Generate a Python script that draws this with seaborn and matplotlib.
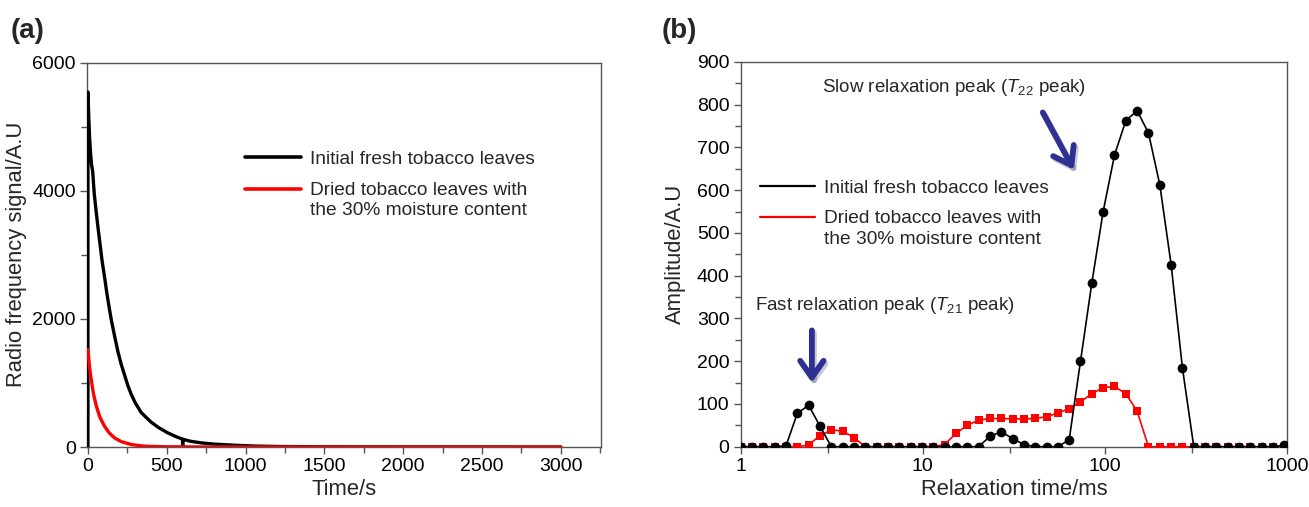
import matplotlib
matplotlib.use("Agg")
import matplotlib.pyplot as plt
import matplotlib.patheffects as pe
from matplotlib.lines import Line2D
from matplotlib.legend_handler import HandlerLine2D
from matplotlib.ticker import MultipleLocator, FixedLocator, NullFormatter
import numpy as np
import pandas as pd
import seaborn as sns

# ---- (a) CPMG decay curves: time (s) vs signal (A.U) ----
fresh_t = [0, 0, 5, 10, 16, 22, 30, 40, 50, 63, 75, 90, 105, 120, 135, 150, 170,
           190, 210, 230, 253, 275, 300, 337, 370, 400, 450, 506, 560, 600, 601,
           602, 650, 717, 800, 928, 1050, 1200, 1500, 2000, 3000]
fresh_sig = [0, 5540, 5150, 4850, 4600, 4420, 4300, 3950, 3720, 3440, 3200, 2900,
             2660, 2400, 2170, 1960, 1720, 1490, 1300, 1140, 960, 820, 690, 540,
             460, 390, 300, 221, 160, 122, 0, 120, 90, 65, 45, 28, 15, 8, 3, 1, 0]
dried_t = [0, 10, 21, 35, 53, 75, 105, 135, 168, 210, 274, 330, 380, 500, 700,
           1000, 3000]
dried_sig = [1519, 1250, 1050, 830, 640, 470, 324, 220, 143, 85, 39, 20, 10, 4, 1,
             0, 0]

# ---- (b) T2 inversion spectra: relaxation time (ms) vs amplitude (A.U) ----
relax_ms = [1.00, 1.154, 1.332, 1.537, 1.773, 2.046, 2.362, 2.725, 3.145, 3.629,
            4.188, 4.833, 5.577, 6.436, 7.427, 8.570, 9.890, 11.41, 13.17, 15.20,
            17.54, 20.24, 23.36, 26.95, 31.10, 35.89, 41.42, 47.79, 55.15, 63.65,
            73.45, 84.76, 97.81, 112.9, 130.3, 150.3, 173.5, 200.2, 231.0, 266.6,
            307.6, 355.0, 409.7, 472.8, 545.6, 629.5, 726.5, 838.4, 967.5]
fresh_amp = [0, 0, 0, 0, 2, 78, 97, 48, 0, 0,
             0, 0, 0, 0, 0, 0, 0, 0, 0, 0,
             0, 0, 24, 35, 19, 5, 0, 0, 0, 16,
             200, 383, 550, 682, 763, 786, 734, 613, 426, 184,
             0, 0, 0, 0, 0, 0, 0, 0, 3]
dried_amp = [0, 0, 0, 0, 0, 0, 4, 26, 39, 37,
             21, 0, 0, 0, 0, 0, 0, 0, 5, 31,
             50, 62, 66, 66, 65, 65, 66, 70, 79, 89,
             105, 124, 138, 141, 124, 83, 0, 0, 0, 0,
             0, 0, 0, 0, 0, 0, 0, 0, 0]

label_fresh = "Initial fresh tobacco leaves"
label_dried = "Dried tobacco leaves with\nthe 30% moisture content"

sns.set_theme(style="ticks")
fam = ["Liberation Sans", "DejaVu Sans"]
plt.rcParams["font.family"] = fam
plt.rcParams["mathtext.fontset"] = "custom"
plt.rcParams["mathtext.rm"] = "Liberation Sans"
plt.rcParams["mathtext.it"] = "Liberation Sans:italic"

FS_TICK = 14
FS_LEG = 13.8
FS_LAB = 15.8
SPINE = "#555555"
BLUE = "#2e3192"
LINESP = 1.25


class TopAlignedLine(HandlerLine2D):
    """Legend line drawn level with the first row of a two-row label."""

    def __init__(self, shift, **kw):
        super().__init__(**kw)
        self.shift = shift

    def create_artists(self, legend, orig_handle, xdescent, ydescent, width,
                       height, fontsize, trans):
        arts = super().create_artists(legend, orig_handle, xdescent, ydescent,
                                      width, height, fontsize, trans)
        for a in arts:
            a.set_ydata(np.asarray(a.get_ydata(), dtype=float) + self.shift)
        return arts


def add_legend(ax, lw, anchor, spacing):
    h_fresh = Line2D([], [], color="black", lw=lw)
    h_dried = Line2D([], [], color="#ff0000", lw=lw)
    leg = ax.legend(handles=[h_fresh, h_dried], labels=[label_fresh, label_dried],
                    loc="upper left", bbox_to_anchor=anchor, frameon=False,
                    fontsize=FS_LEG, handlelength=2.9, handletextpad=0.45,
                    labelspacing=spacing, borderpad=0, borderaxespad=0,
                    handler_map={h_dried: TopAlignedLine(FS_LEG * LINESP / 2)})
    for t in leg.get_texts():
        t.set_linespacing(LINESP)
    return leg


fig = plt.figure(figsize=(13.09, 5.07), dpi=100)
ax_a = fig.add_axes([87 / 1309, 60 / 507, 514 / 1309, 384.5 / 507])
ax_b = fig.add_axes([740.7 / 1309, 60.3 / 507, 546.3 / 1309, 384.7 / 507])

# ---------------- panel (a) ----------------
df_fresh = pd.DataFrame({"t": fresh_t, "s": fresh_sig})
df_dried = pd.DataFrame({"t": dried_t, "s": dried_sig})
sns.lineplot(data=df_fresh, x="t", y="s", ax=ax_a, color="black", lw=2.4,
             estimator=None, sort=False, zorder=3)
sns.lineplot(data=df_dried, x="t", y="s", ax=ax_a, color="#ff0000", lw=2.4,
             estimator=None, sort=False, zorder=4)
ax_a.set_xlim(-6, 3255)
ax_a.set_ylim(0, 6000)
ax_a.xaxis.set_major_locator(MultipleLocator(500))
ax_a.xaxis.set_minor_locator(MultipleLocator(250))
ax_a.yaxis.set_major_locator(MultipleLocator(2000))
ax_a.yaxis.set_minor_locator(MultipleLocator(1000))
ax_a.set_xlabel("Time/s", fontsize=FS_LAB, labelpad=3)
ax_a.set_ylabel("Radio frequency signal/A.U", fontsize=FS_LAB, labelpad=4)
add_legend(ax_a, 2.6, (0.308, 0.772), 0.76)

# ---------------- panel (b) ----------------
df_b = pd.DataFrame({"t2": relax_ms, "fresh": fresh_amp, "dried": dried_amp})
sns.lineplot(data=df_b, x="t2", y="dried", ax=ax_b, color="#ff0000", lw=1.2,
             marker="s", markersize=6.0, markeredgewidth=0, estimator=None,
             sort=False, zorder=3)
sns.lineplot(data=df_b, x="t2", y="fresh", ax=ax_b, color="black", lw=1.2,
             marker="o", markersize=7.0, markeredgewidth=0, estimator=None,
             sort=False, zorder=4)
ax_b.set_xscale("log")
ax_b.set_xlim(1, 1000)
ax_b.set_ylim(0, 900)
ax_b.xaxis.set_major_locator(FixedLocator([1, 10, 100, 1000]))
ax_b.xaxis.set_minor_locator(FixedLocator([3, 30, 300]))
ax_b.xaxis.set_minor_formatter(NullFormatter())
ax_b.set_xticklabels(["1", "10", "100", "1000"])
ax_b.yaxis.set_major_locator(MultipleLocator(100))
ax_b.yaxis.set_minor_locator(MultipleLocator(50))
ax_b.set_xlabel("Relaxation time/ms", fontsize=FS_LAB, labelpad=3)
ax_b.set_ylabel("Amplitude/A.U", fontsize=FS_LAB, labelpad=8)
add_legend(ax_b, 1.6, (0.035, 0.695), 0.71)

ax_b.text(0.149, 0.935, r"Slow relaxation peak ($T_{22}$ peak)", transform=ax_b.transAxes,
          fontsize=13.5, ha="left", va="center")
ax_b.text(0.026, 0.368, r"Fast relaxation peak ($T_{21}$ peak)", transform=ax_b.transAxes,
          fontsize=13.5, ha="left", va="center")

shadow = [pe.SimpleLineShadow(offset=(1.5, -2), alpha=0.25, shadow_color="#333366"),
          pe.Normal()]
arrow_kw = dict(arrowstyle="->,head_length=1.0,head_width=0.7", color=BLUE, lw=4.2,
                shrinkA=0, shrinkB=0)
ax_b.annotate("", xy=(2.46, 150), xytext=(2.46, 272),
              arrowprops=dict(**arrow_kw, path_effects=shadow))
ax_b.annotate("", xy=(67.5, 648), xytext=(45.6, 782),
              arrowprops=dict(**arrow_kw, path_effects=shadow))

# ---------------- shared styling ----------------
for ax in (ax_a, ax_b):
    for sp in ax.spines.values():
        sp.set_visible(True)
        sp.set_color(SPINE)
        sp.set_linewidth(1.0)
    ax.tick_params(which="both", direction="out", color=SPINE, width=1.0,
                   top=False, right=False, labelsize=FS_TICK, labelcolor="black")
    ax.tick_params(which="major", length=5, pad=3)
    ax.tick_params(which="minor", length=4)
    ax.grid(False)
    ax.set_facecolor("white")

fig.text(11 / 1309, 1 - 31 / 507, "(a)", fontsize=20, fontweight="bold",
         ha="left", va="center")
fig.text(662 / 1309, 1 - 31 / 507, "(b)", fontsize=20, fontweight="bold",
         ha="left", va="center")

fig.savefig("out.png", dpi=100, facecolor="white")
